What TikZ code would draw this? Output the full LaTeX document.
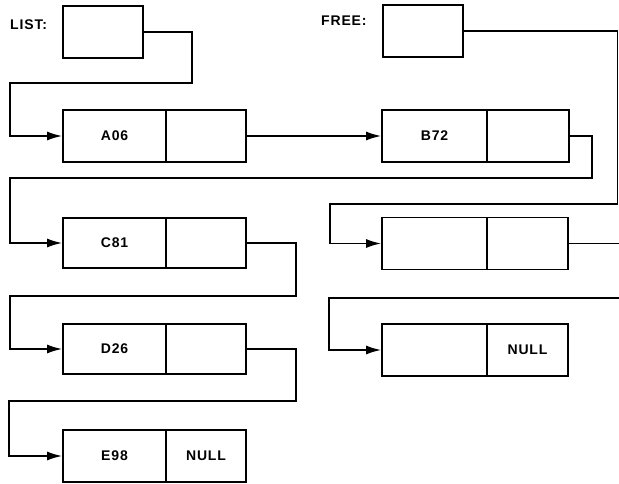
\documentclass[tikz,border=0pt]{standalone}
\usepackage{fontspec}
\setmainfont{Liberation Sans}
\newfontfamily\lblfont[LetterSpace=6]{Liberation Sans}
\usetikzlibrary{arrows.meta}
\begin{document}
\begin{tikzpicture}[x=1pt,y=-1pt,
  cell/.style={draw,line width=1.8pt,minimum height=52pt,inner sep=0pt,
    font=\lblfont\bfseries\fontsize{14}{14}\selectfont},
  keycell/.style={cell,minimum width=103pt},
  ptrcell/.style={cell,minimum width=80pt},
  headcell/.style={cell,minimum width=80pt},
  label/.style={font=\lblfont\bfseries\fontsize{14}{14}\selectfont,anchor=west,inner sep=0pt},
  link/.style={line width=1.5pt,-{Latex[length=15pt,width=9pt]}},
  plain/.style={line width=1.5pt}]
\useasboundingbox (0,0) rectangle (619,484);

% list heads
\node[label] (listlbl) at (10,25) {LIST:};
\node[headcell] (list) at (103,32) {};
\node[label] (freelbl) at (321,21) {FREE:};
\node[headcell] (free) at (423,31) {};

% records of the list
\node[keycell] (a06) at (114.5,136) {A06};
\node[ptrcell] (a06p) at (206,136) {};
\node[keycell,minimum width=105pt] (b72) at (434.5,136) {B72};
\node[ptrcell,minimum width=82pt] (b72p) at (528,136) {};
\node[keycell,minimum height=50pt] (c81) at (114.5,243) {C81};
\node[ptrcell,minimum height=50pt] (c81p) at (206,243) {};
\node[keycell,minimum height=50pt] (d26) at (114.5,349) {D26};
\node[ptrcell,minimum height=50pt] (d26p) at (206,349) {};
\node[keycell] (e98) at (114.5,456) {E98};
\node[ptrcell] (e98p) at (206,456) {NULL};

% records of the free list
\node[keycell,minimum width=105pt] (f1) at (434.5,243.5) {};
\node[ptrcell,minimum width=81pt] (f1p) at (527.5,243.5) {};
\node[keycell,minimum width=105pt] (f2) at (434.5,350) {};
\node[ptrcell,minimum width=81pt] (f2p) at (527.5,350) {NULL};

\coordinate (f1out) at (619,243.5);
\coordinate (f2in) at (619,298);

% pointers
\draw[link] (list.east) -| (192,83) -- (10,83) |- (a06.west);
\draw[link] (a06p.east) -- (b72.west);
\draw[link] (b72p.east) -| (592,178) -- (10,178) |- (c81.west);
\draw[link] (c81p.east) -| (296,296) -- (10,296) |- (d26.west);
\draw[link] (d26p.east) -| (296,401) -- (9,401) |- (e98.west);

\draw[link] (free.east) -| (617.5,204) -- (330,204) |- (f1.west);
\draw[plain] (f1p.east) -- (f1out);
\draw[link] (f2in) -- (329,298) |- (f2.west);
\end{tikzpicture}
\end{document}
